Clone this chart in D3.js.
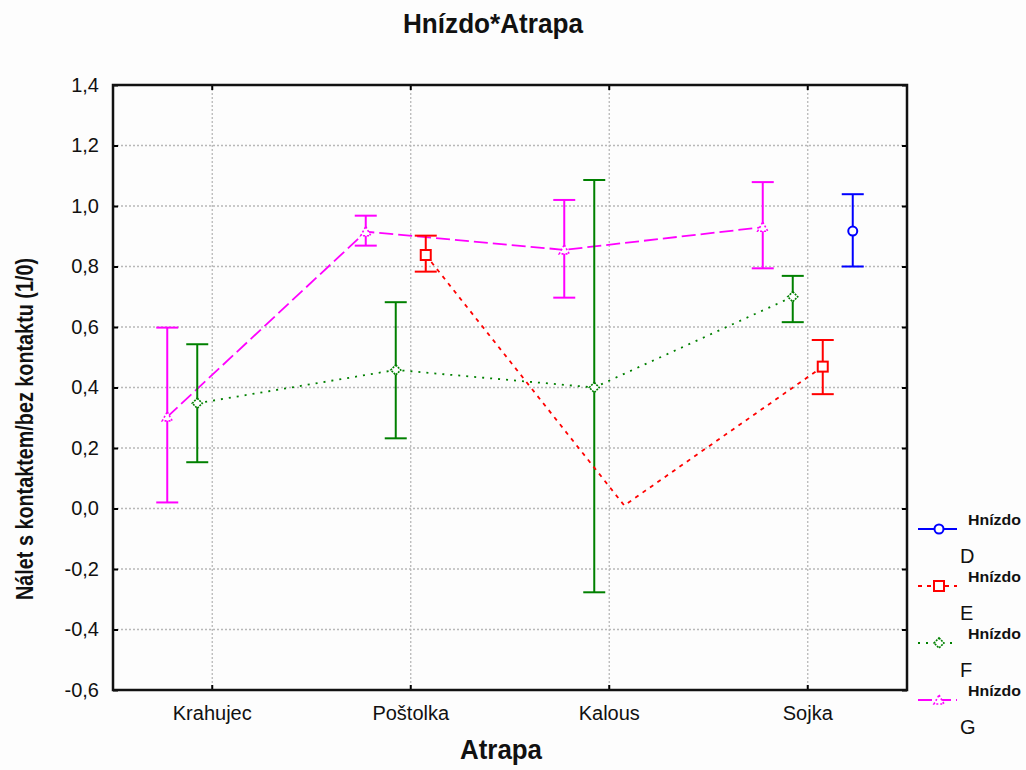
<!DOCTYPE html>
<html><head><meta charset="utf-8">
<script src="https://cdn.jsdelivr.net/npm/d3@7"></script>
<style>body{margin:0;background:#fff;} svg{display:block;}</style>
</head><body>
<svg id="chart" width="1026" height="770"></svg>
<script>
const categories = ["Krahujec", "Poštolka", "Kalous", "Sojka"];
const seriesNames = ["D", "E", "F", "G"];
const yTicks = [-0.6, -0.4, -0.2, 0.0, 0.2, 0.4, 0.6, 0.8, 1.0, 1.2, 1.4];

const meanD = [null, null, null, 0.917];
const lowD  = [null, null, null, 0.80];
const highD = [null, null, null, 1.039];

const meanE = [null, 0.838, 0.01, 0.469];
const lowE  = [null, 0.783, null, 0.378];
const highE = [null, 0.902, null, 0.557];

const meanF = [0.348, 0.458, 0.40, 0.70];
const lowF  = [0.153, 0.232, -0.277, 0.616];
const highF = [0.543, 0.682, 1.086, 0.769];

const meanG = [0.303, 0.915, 0.855, 0.93];
const lowG  = [0.02, 0.869, 0.697, 0.794];
const highG = [0.598, 0.968, 1.02, 1.079];

const seriesData = [
  {name: "D", mean: meanD, low: lowD, high: highD},
  {name: "E", mean: meanE, low: lowE, high: highE},
  {name: "F", mean: meanF, low: lowF, high: highF},
  {name: "G", mean: meanG, low: lowG, high: highG}
];

const styles = {
  D: {color: "#0000ff", dash: null, marker: "circle"},
  E: {color: "#ff0000", dash: "4,5", marker: "square"},
  F: {color: "#008000", dash: "2,6", marker: "diamond"},
  G: {color: "#ff00ff", dash: "14,5", marker: "triangle"}
};

const svg = d3.select("#chart");
const m = {left: 113, right: 907, top: 85, bottom: 690};
const font = "'Liberation Sans', Arial, sans-serif";
const narrow = "'Liberation Sans Narrow', 'Arial Narrow', 'Liberation Sans', Arial, sans-serif";

svg.append("rect").attr("width", 1026).attr("height", 770).attr("fill", "#fdfdfd");

const x = d3.scaleBand().domain(categories).range([m.left, m.right]).padding(0);
const y = d3.scaleLinear().domain([-0.6, 1.4]).range([m.bottom, m.top]);
const off = d3.scalePoint().domain(["G", "F", "E", "D"]).range([-45, 45]);
const cx = c => x(c) + x.bandwidth() / 2;

// grid
const grid = svg.append("g");
grid.selectAll(".hg").data(yTicks.filter(t => t > -0.6 && t < 1.4)).join("line")
  .attr("x1", m.left).attr("x2", m.right)
  .attr("y1", d => y(d)).attr("y2", d => y(d))
  .attr("stroke", "#b8b8b8").attr("stroke-width", 1.3).attr("stroke-dasharray", "2,2");
grid.selectAll(".vg").data(categories).join("line")
  .attr("x1", d => cx(d)).attr("x2", d => cx(d))
  .attr("y1", m.top).attr("y2", m.bottom)
  .attr("stroke", "#b8b8b8").attr("stroke-width", 1.3).attr("stroke-dasharray", "2,2");

// axes
const fmt = d => d3.format(".1f")(d).replace(".", ",").replace("−", "-");
const yAxisL = d3.axisLeft(y).tickValues(yTicks).tickSize(-5).tickPadding(14).tickFormat(fmt);
const gl = svg.append("g").attr("transform", `translate(${m.left},0)`).call(yAxisL);
gl.select(".domain").remove();
gl.selectAll("text").attr("font-family", font).attr("font-size", 20).attr("fill", "#111");
gl.selectAll("line").attr("stroke", "#000").attr("stroke-width", 2);

const gr = svg.append("g").attr("transform", `translate(${m.right},0)`)
  .call(d3.axisRight(y).tickValues(yTicks).tickSize(-5).tickFormat(""));
gr.select(".domain").remove();
gr.selectAll("line").attr("stroke", "#000").attr("stroke-width", 2);

const xAxisB = d3.axisBottom(x).tickSize(-5).tickPadding(20);
const gb = svg.append("g").attr("transform", `translate(0,${m.bottom})`).call(xAxisB);
gb.select(".domain").remove();
gb.selectAll("text").attr("font-family", font).attr("font-size", 20).attr("fill", "#111")
  .attr("dy", "0.5em");
gb.selectAll("line").attr("stroke", "#000").attr("stroke-width", 2);

const gt = svg.append("g").attr("transform", `translate(0,${m.top})`)
  .call(d3.axisTop(x).tickSize(-5).tickFormat(""));
gt.select(".domain").remove();
gt.selectAll("line").attr("stroke", "#000").attr("stroke-width", 2);

svg.append("rect").attr("x", m.left).attr("y", m.top)
  .attr("width", m.right - m.left).attr("height", m.bottom - m.top)
  .attr("fill", "none").attr("stroke", "#111").attr("stroke-width", 2.5);

// series
function drawMarker(g, type, px, py, color) {
  if (type === "circle") {
    g.append("circle").attr("cx", px).attr("cy", py).attr("r", 4.5)
      .attr("fill", "#fff").attr("stroke", color).attr("stroke-width", 2);
  } else if (type === "square") {
    g.append("rect").attr("x", px - 5).attr("y", py - 5).attr("width", 10).attr("height", 10)
      .attr("fill", "#fff").attr("stroke", color).attr("stroke-width", 2);
  } else if (type === "diamond") {
    g.append("path").attr("d", `M${px},${py-5}L${px+5},${py}L${px},${py+5}L${px-5},${py}Z`)
      .attr("fill", "#fff").attr("stroke", color).attr("stroke-width", 1.6).attr("stroke-dasharray", "2,1");
  } else if (type === "triangle") {
    g.append("path").attr("d", `M${px},${py-5}L${px+5},${py+4}L${px-5},${py+4}Z`)
      .attr("fill", "#fff").attr("stroke", color).attr("stroke-width", 1.6).attr("stroke-dasharray", "2,2");
  }
}

const order = ["G", "F", "E", "D"];
order.forEach(name => {
  const s = seriesData.find(d => d.name === name);
  const st = styles[name];
  const g = svg.append("g");
  const pts = categories.map((c, i) => ({c, v: s.mean[i], lo: s.low[i], hi: s.high[i]}));
  const line = d3.line().defined(d => d.v !== null)
    .x(d => cx(d.c) + off(name)).y(d => y(d.v));
  g.append("path").attr("d", line(pts)).attr("fill", "none")
    .attr("stroke", st.color).attr("stroke-width", 1.8)
    .attr("stroke-dasharray", st.dash);
  pts.filter(d => d.v !== null && d.lo !== null).forEach(d => {
    const px = cx(d.c) + off(name);
    g.append("line").attr("x1", px).attr("x2", px).attr("y1", y(d.lo)).attr("y2", y(d.hi))
      .attr("stroke", st.color).attr("stroke-width", 2);
    [d.lo, d.hi].forEach(v => {
      g.append("line").attr("x1", px - 11).attr("x2", px + 11).attr("y1", y(v)).attr("y2", y(v))
        .attr("stroke", st.color).attr("stroke-width", 2);
    });
    drawMarker(g, st.marker, px, y(d.v), st.color);
  });
});

// titles
svg.append("text").attr("x", 493).attr("y", 33).attr("text-anchor", "middle")
  .attr("font-family", narrow).attr("font-weight", "bold").attr("font-size", 27)
  .attr("textLength", 180).attr("lengthAdjust", "spacingAndGlyphs")
  .attr("fill", "#111").text("Hnízdo*Atrapa");
svg.append("text").attr("x", 501).attr("y", 759).attr("text-anchor", "middle")
  .attr("font-family", narrow).attr("font-weight", "bold").attr("font-size", 27)
  .attr("textLength", 82).attr("lengthAdjust", "spacingAndGlyphs")
  .attr("fill", "#111").text("Atrapa");
svg.append("text").attr("transform", "translate(33,429) rotate(-90)").attr("text-anchor", "middle")
  .attr("font-family", narrow).attr("font-weight", "bold").attr("font-size", 24)
  .attr("textLength", 342).attr("lengthAdjust", "spacingAndGlyphs")
  .attr("fill", "#111").text("Nálet s kontaktem/bez kontaktu (1/0)");

// legend
const lg = svg.append("g");
seriesNames.forEach((name, i) => {
  const st = styles[name];
  const ly = 529 + i * 57;
  lg.append("line").attr("x1", 918).attr("x2", 957).attr("y1", ly).attr("y2", ly)
    .attr("stroke", st.color).attr("stroke-width", 1.8).attr("stroke-dasharray", st.dash);
  drawMarker(lg, st.marker, 939, ly, st.color);
  lg.append("text").attr("x", 968).attr("y", ly - 4)
    .attr("font-family", narrow).attr("font-weight", "bold").attr("font-size", 15)
    .attr("textLength", 53).attr("lengthAdjust", "spacingAndGlyphs")
    .attr("fill", "#111").text("Hnízdo");
  lg.append("text").attr("x", 960).attr("y", ly + 34)
    .attr("font-family", font).attr("font-size", 20)
    .attr("fill", "#111").text(name);
});
</script>
</body></html>
